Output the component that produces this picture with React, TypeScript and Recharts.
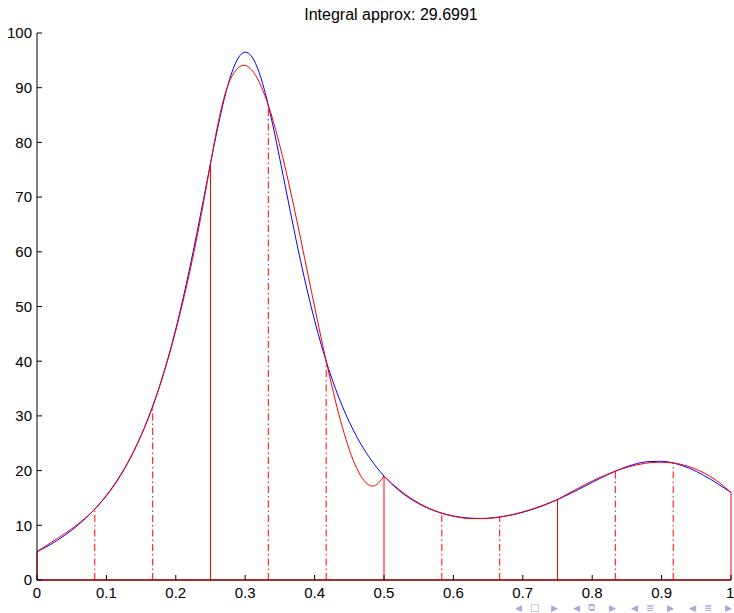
import React from 'react'
import { LineChart, Line, XAxis, YAxis, ReferenceLine } from 'recharts'

// humps(x)
const blueX = [0, 0.02, 0.04, 0.06, 0.08, 0.1, 0.12, 0.14, 0.16, 0.18, 0.2, 0.22, 0.24, 0.25, 0.26, 0.27, 0.28, 0.29, 0.3, 0.31, 0.32, 0.33, 0.34, 0.35, 0.36, 0.38, 0.4, 0.42, 0.44, 0.46, 0.48, 0.5, 0.52, 0.54, 0.56, 0.58, 0.6, 0.62, 0.64, 0.66, 0.68, 0.7, 0.72, 0.74, 0.76, 0.78, 0.8, 0.82, 0.84, 0.86, 0.88, 0.9, 0.92, 0.94, 0.96, 0.98, 1]
const blueY = [5.176, 6.54, 8.169, 10.134, 12.527, 15.471, 19.127, 23.709, 29.486, 36.775, 45.887, 56.966, 69.632, 76.162, 82.431, 88.032, 92.51, 95.437, 96.5, 95.587, 92.811, 88.484, 83.035, 76.92, 70.545, 58.198, 47.448, 38.682, 31.758, 26.371, 22.206, 19, 16.546, 14.689, 13.314, 12.335, 11.692, 11.343, 11.255, 11.409, 11.789, 12.382, 13.177, 14.156, 15.291, 16.542, 17.846, 19.118, 20.251, 21.129, 21.639, 21.703, 21.288, 20.422, 19.18, 17.669, 16]

// piecewise cubic approximation (red)
const redX = [0, 0.0208, 0.0417, 0.0625, 0.0833, 0.1042, 0.125, 0.1458, 0.1667, 0.1875, 0.2083, 0.2292, 0.25, 0.2708, 0.2917, 0.2979, 0.3125, 0.3333, 0.3542, 0.375, 0.3958, 0.4167, 0.4375, 0.4583, 0.4792, 0.4838, 0.5, 0.5208, 0.5417, 0.5625, 0.5833, 0.6042, 0.625, 0.6458, 0.6667, 0.6875, 0.7083, 0.7292, 0.75, 0.7708, 0.7917, 0.8125, 0.8333, 0.8542, 0.875, 0.8958, 0.9167, 0.9375, 0.9583, 0.9792, 1]
const redY = [5.177, 6.904, 8.627, 10.574, 12.976, 16.062, 20.064, 25.21, 31.731, 39.856, 49.817, 61.842, 76.162, 88.738, 93.832, 94.095, 92.742, 86.769, 77.21, 65.364, 52.531, 40.008, 29.095, 21.09, 17.3, 17.158, 19, 16.609, 14.702, 13.246, 12.206, 11.547, 11.234, 11.234, 11.511, 12.031, 12.76, 13.663, 14.706, 16.176, 17.564, 18.82, 19.896, 20.741, 21.304, 21.537, 21.39, 20.813, 19.755, 18.167, 16]

const panelEdges = [0, 0.25, 0.5, 0.75, 1]

// sample nodes (vertical lines)
const nodeX = [0, 0.0833, 0.1667, 0.25, 0.3333, 0.4167, 0.5, 0.5833, 0.6667, 0.75, 0.8333, 0.9167, 1]
const nodeY = [5.18, 12.98, 31.73, 76.16, 86.77, 40.01, 19, 12.21, 11.51, 14.71, 19.9, 21.39, 16]

const xTicks = [0, 0.1, 0.2, 0.3, 0.4, 0.5, 0.6, 0.7, 0.8, 0.9, 1]
const yTicks = [0, 10, 20, 30, 40, 50, 60, 70, 80, 90, 100]
const title = 'Integral approx: 29.6991'

const blueData = blueX.map((x, i) => ({ x, y: blueY[i] }))
const redData = redX.map((x, i) => ({ x, y: redY[i] }))
const redPanels = panelEdges.slice(1).map((b, i) =>
  redData.filter((d) => d.x >= panelEdges[i] - 1e-9 && d.x <= b + 1e-9)
)

const RED = '#ff0000'
const BLUE = '#0000ff'
const font = '"Liberation Sans", Arial, Helvetica, sans-serif'

const navGroups = [
  { x: 515, mid: '□' },
  { x: 573, mid: '⧉' },
  { x: 631, mid: '≣' },
  { x: 689, mid: '≣' },
]

export default function App() {
  const tickStyle = { fill: '#000', fontSize: 15, fontFamily: font }
  const noLabel = () => <g />
  return (
    <div style={{ position: 'absolute', left: 0, top: 0, width: 734, height: 613, background: '#fff', fontFamily: font }}>
      <LineChart width={734} height={613} data={blueData} margin={{ top: 33, right: 3, bottom: 0, left: 0 }}>
        <XAxis
          xAxisId="b"
          type="number"
          dataKey="x"
          domain={[0, 1]}
          ticks={xTicks}
          tickFormatter={(v) => String(v)}
          height={33}
          tickSize={-5}
          tickMargin={12}
          axisLine={{ stroke: '#8b1010', strokeWidth: 1.5 }}
          tickLine={{ stroke: '#000' }}
          tick={tickStyle}
          allowDataOverflow
        />
        <XAxis
          xAxisId="t"
          orientation="top"
          type="number"
          dataKey="x"
          domain={[0, 1]}
          ticks={xTicks}
          height={0}
          tickSize={-5}
          axisLine={{ stroke: '#000' }}
          tickLine={{ stroke: '#000' }}
          tick={noLabel}
        />
        <YAxis
          yAxisId="l"
          type="number"
          domain={[0, 100]}
          ticks={yTicks}
          width={37}
          tickSize={-5}
          tickMargin={10}
          axisLine={{ stroke: '#000' }}
          tickLine={{ stroke: '#000' }}
          tick={tickStyle}
          allowDataOverflow
        />
        <YAxis
          yAxisId="r"
          orientation="right"
          type="number"
          domain={[0, 100]}
          ticks={yTicks}
          width={0}
          tickSize={-5}
          axisLine={{ stroke: '#000' }}
          tickLine={{ stroke: '#000' }}
          tick={noLabel}
        />
        <ReferenceLine xAxisId="b" yAxisId="l" y={0} stroke={RED} />
        {nodeX.map((x, i) => (
          <ReferenceLine
            key={'n' + i}
            xAxisId="b"
            yAxisId="l"
            segment={[{ x, y: 0 }, { x, y: nodeY[i] }]}
            stroke={RED}
            strokeWidth={1}
            strokeDasharray={i % 3 === 0 ? 'none' : '7 3 1.5 3'}
          />
        ))}
        <Line
          xAxisId="b"
          yAxisId="l"
          data={blueData}
          dataKey="y"
          type="monotone"
          stroke={BLUE}
          strokeWidth={1}
          dot={false}
          isAnimationActive={false}
        />
        {redPanels.map((p, i) => (
          <Line
            key={'r' + i}
            xAxisId="b"
            yAxisId="l"
            data={p}
            dataKey="y"
            type="monotone"
            stroke={RED}
            strokeWidth={1}
            dot={false}
            isAnimationActive={false}
          />
        ))}
      </LineChart>
      <svg width={734} height={613} style={{ position: 'absolute', left: 0, top: 0, pointerEvents: 'none' }}>
        <text x={391} y={20} textAnchor="middle" fontSize={16} fontFamily={font} fill="#000">
          {title}
        </text>
        {navGroups.map((g, i) => (
          <g key={i} fill="#a4a9d8" fontFamily='"DejaVu Sans", sans-serif' fontSize={9}>
            <text x={g.x} y={611}>◀</text>
            <text x={g.x + 15} y={611} fontSize={10}>{g.mid}</text>
            <text x={g.x + 36} y={611}>▶</text>
          </g>
        ))}
      </svg>
    </div>
  )
}
